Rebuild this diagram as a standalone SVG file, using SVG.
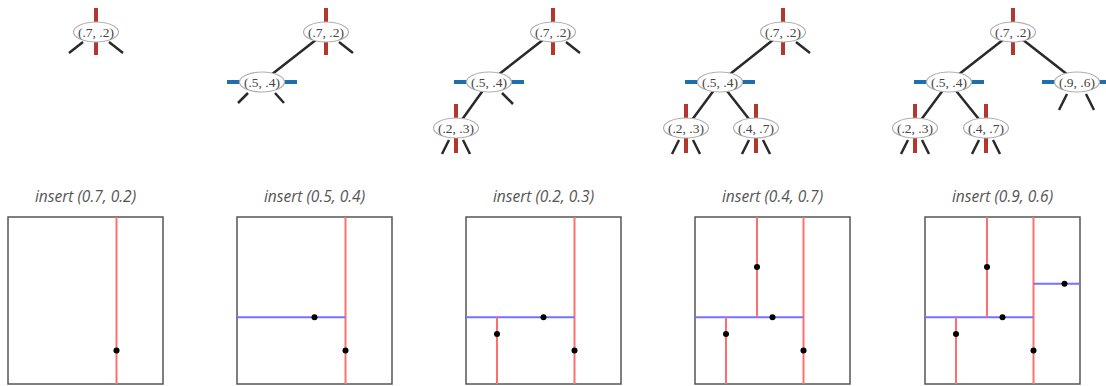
<svg xmlns="http://www.w3.org/2000/svg" width="1106" height="386" viewBox="0 0 1106 386">
  <style>
    .edge { stroke: #2a2a2a; stroke-width: 2.5; fill: none; stroke-linecap: butt; }
    .vbar { stroke: #b3372c; stroke-width: 4; }
    .hbar { stroke: #1f6faf; stroke-width: 4; }
    .node text { font-family: "Liberation Serif", "DejaVu Serif", serif; font-size: 13.5px; fill: #444; text-anchor: middle; }
    .title { font-family: "Open Sans", "Liberation Sans", sans-serif; font-style: italic; font-size: 15.5px; fill: #555; text-anchor: middle; }
    .frame { fill: #ffffff; stroke: #555; stroke-width: 1.5; }
    .vsplit { stroke: #ff6e6e; stroke-width: 2; }
    .hsplit { stroke: #7373ff; stroke-width: 2; }
    .pt { fill: #000; }
  </style>
  <defs>
    <ellipse id="oval" cx="0" cy="0" rx="22.5" ry="10" fill="#ffffff" stroke="#b0b0b0" stroke-width="1.2"/>
  </defs>

  <!-- tree links and null-link stubs -->
  <g id="connectors">
    <!-- step 1 -->
    <path class="edge" d="M83,42 L69,53 M109,42 L123,53"/>
    <!-- step 2 -->
    <path class="edge" d="M326,32 L262,82 M339,42 L353,53"/>
    <path class="edge" d="M248,93 L238,103 M275,93 L284,103"/>
    <!-- step 3 -->
    <path class="edge" d="M553,32 L489,82 M566,42 L580,53"/>
    <path class="edge" d="M489,82 L456,128 M502,93 L513,104"/>
    <path class="edge" d="M449,140 L442,154 M463,140 L470,154"/>
    <!-- step 4 -->
    <path class="edge" d="M783,32 L720,82 M796,42 L810,53"/>
    <path class="edge" d="M720,82 L686,128 M720,82 L756,128"/>
    <path class="edge" d="M679,140 L672,154 M693,140 L700,154"/>
    <path class="edge" d="M749,140 L742,154 M763,140 L770,154"/>
    <!-- step 5 -->
    <path class="edge" d="M1013,32 L949,82 M1013,32 L1077,82"/>
    <path class="edge" d="M949,82 L915,128 M949,82 L986,128"/>
    <path class="edge" d="M908,140 L901,154 M922,140 L929,154"/>
    <path class="edge" d="M979,140 L972,154 M993,140 L1000,154"/>
    <path class="edge" d="M1067,94 L1059,110 M1086,94 L1094,110"/>
  </g>

  <!-- step 1 tree -->
  <g id="s1-n72" class="node" transform="translate(96,32)">
    <line class="vbar" x1="0" y1="-24" x2="0" y2="23"/>
    <use href="#oval"/><text y="4.5">(.7, .2)</text>
  </g>

  <!-- step 2 tree -->
  <g id="s2-n72" class="node" transform="translate(326,32)">
    <line class="vbar" x1="0" y1="-24" x2="0" y2="23"/>
    <use href="#oval"/><text y="4.5">(.7, .2)</text>
  </g>
  <g id="s2-n54" class="node" transform="translate(262,82)">
    <line class="hbar" x1="-35" y1="0" x2="35" y2="0"/>
    <use href="#oval"/><text y="4.5">(.5, .4)</text>
  </g>

  <!-- step 3 tree -->
  <g id="s3-n72" class="node" transform="translate(553,32)">
    <line class="vbar" x1="0" y1="-24" x2="0" y2="23"/>
    <use href="#oval"/><text y="4.5">(.7, .2)</text>
  </g>
  <g id="s3-n54" class="node" transform="translate(489,82)">
    <line class="hbar" x1="-35" y1="0" x2="35" y2="0"/>
    <use href="#oval"/><text y="4.5">(.5, .4)</text>
  </g>
  <g id="s3-n23" class="node" transform="translate(456,128)">
    <line class="vbar" x1="0" y1="-24" x2="0" y2="25"/>
    <use href="#oval"/><text y="4.5">(.2, .3)</text>
  </g>

  <!-- step 4 tree -->
  <g id="s4-n72" class="node" transform="translate(783,32)">
    <line class="vbar" x1="0" y1="-24" x2="0" y2="23"/>
    <use href="#oval"/><text y="4.5">(.7, .2)</text>
  </g>
  <g id="s4-n54" class="node" transform="translate(720,82)">
    <line class="hbar" x1="-35" y1="0" x2="35" y2="0"/>
    <use href="#oval"/><text y="4.5">(.5, .4)</text>
  </g>
  <g id="s4-n23" class="node" transform="translate(686,128)">
    <line class="vbar" x1="0" y1="-24" x2="0" y2="25"/>
    <use href="#oval"/><text y="4.5">(.2, .3)</text>
  </g>
  <g id="s4-n47" class="node" transform="translate(756,128)">
    <line class="vbar" x1="0" y1="-24" x2="0" y2="25"/>
    <use href="#oval"/><text y="4.5">(.4, .7)</text>
  </g>

  <!-- step 5 tree -->
  <g id="s5-n72" class="node" transform="translate(1013,32)">
    <line class="vbar" x1="0" y1="-24" x2="0" y2="23"/>
    <use href="#oval"/><text y="4.5">(.7, .2)</text>
  </g>
  <g id="s5-n54" class="node" transform="translate(949,82)">
    <line class="hbar" x1="-35" y1="0" x2="35" y2="0"/>
    <use href="#oval"/><text y="4.5">(.5, .4)</text>
  </g>
  <g id="s5-n96" class="node" transform="translate(1077,82)">
    <line class="hbar" x1="-35" y1="0" x2="35" y2="0"/>
    <use href="#oval"/><text y="4.5">(.9, .6)</text>
  </g>
  <g id="s5-n23" class="node" transform="translate(915,128)">
    <line class="vbar" x1="0" y1="-24" x2="0" y2="25"/>
    <use href="#oval"/><text y="4.5">(.2, .3)</text>
  </g>
  <g id="s5-n47" class="node" transform="translate(986,128)">
    <line class="vbar" x1="0" y1="-24" x2="0" y2="25"/>
    <use href="#oval"/><text y="4.5">(.4, .7)</text>
  </g>

  <!-- unit-square partitions: x maps to left+155*x, y maps to 384-167*y -->
  <g id="plane1">
    <text class="title" x="85.5" y="202">insert (0.7, 0.2)</text>
    <rect class="frame" x="8" y="217" width="155" height="167"/>
    <line class="vsplit" x1="116.5" y1="217" x2="116.5" y2="384"/>
    <circle class="pt" cx="116.5" cy="350.6" r="3"/>
  </g>

  <g id="plane2">
    <text class="title" x="314.5" y="202">insert (0.5, 0.4)</text>
    <rect class="frame" x="237" y="217" width="155" height="167"/>
    <line class="vsplit" x1="345.5" y1="217" x2="345.5" y2="384"/>
    <line class="hsplit" x1="237" y1="317.2" x2="345.5" y2="317.2"/>
    <circle class="pt" cx="345.5" cy="350.6" r="3"/>
    <circle class="pt" cx="314.5" cy="317.2" r="3"/>
  </g>

  <g id="plane3">
    <text class="title" x="543.5" y="202">insert (0.2, 0.3)</text>
    <rect class="frame" x="466" y="217" width="155" height="167"/>
    <line class="vsplit" x1="574.5" y1="217" x2="574.5" y2="384"/>
    <line class="hsplit" x1="466" y1="317.2" x2="574.5" y2="317.2"/>
    <line class="vsplit" x1="497" y1="317.2" x2="497" y2="384"/>
    <circle class="pt" cx="574.5" cy="350.6" r="3"/>
    <circle class="pt" cx="543.5" cy="317.2" r="3"/>
    <circle class="pt" cx="497" cy="333.9" r="3"/>
  </g>

  <g id="plane4">
    <text class="title" x="772.5" y="202">insert (0.4, 0.7)</text>
    <rect class="frame" x="695" y="217" width="155" height="167"/>
    <line class="vsplit" x1="803.5" y1="217" x2="803.5" y2="384"/>
    <line class="hsplit" x1="695" y1="317.2" x2="803.5" y2="317.2"/>
    <line class="vsplit" x1="726" y1="317.2" x2="726" y2="384"/>
    <line class="vsplit" x1="757" y1="217" x2="757" y2="317.2"/>
    <circle class="pt" cx="803.5" cy="350.6" r="3"/>
    <circle class="pt" cx="772.5" cy="317.2" r="3"/>
    <circle class="pt" cx="726" cy="333.9" r="3"/>
    <circle class="pt" cx="757" cy="267.1" r="3"/>
  </g>

  <g id="plane5">
    <text class="title" x="1002.5" y="202">insert (0.9, 0.6)</text>
    <rect class="frame" x="925" y="217" width="155" height="167"/>
    <line class="vsplit" x1="1033.5" y1="217" x2="1033.5" y2="384"/>
    <line class="hsplit" x1="925" y1="317.2" x2="1033.5" y2="317.2"/>
    <line class="vsplit" x1="956" y1="317.2" x2="956" y2="384"/>
    <line class="vsplit" x1="987" y1="217" x2="987" y2="317.2"/>
    <line class="hsplit" x1="1033.5" y1="283.8" x2="1080" y2="283.8"/>
    <circle class="pt" cx="1033.5" cy="350.6" r="3"/>
    <circle class="pt" cx="1002.5" cy="317.2" r="3"/>
    <circle class="pt" cx="956" cy="333.9" r="3"/>
    <circle class="pt" cx="987" cy="267.1" r="3"/>
    <circle class="pt" cx="1064.5" cy="283.8" r="3"/>
  </g>
</svg>
